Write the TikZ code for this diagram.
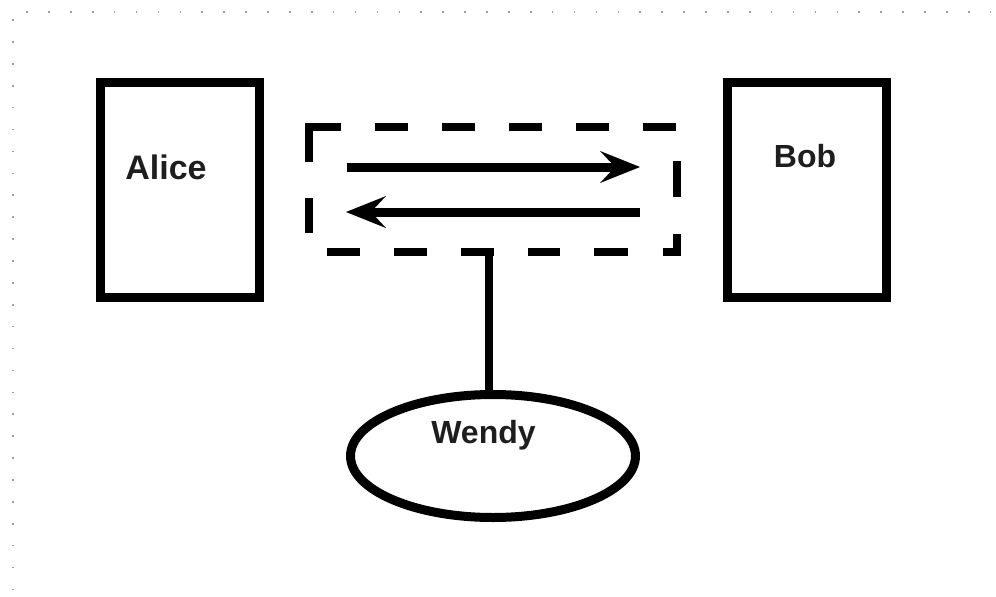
\documentclass[tikz,border=0pt]{standalone}
\usepackage{fontspec}
\setmainfont{Liberation Sans}
\usetikzlibrary{arrows.meta,shapes.geometric}
\definecolor{txt}{HTML}{1E1E1E}
\tikzset{
  box/.style={draw=black, line width=9pt, rectangle, minimum width=159pt, minimum height=215pt, inner sep=0pt},
  lbl/.style={font=\bfseries\fontsize{32pt}{32pt}\selectfont, text=txt, inner sep=0pt, anchor=base},
  biglbl/.style={lbl, font=\bfseries\fontsize{34pt}{34pt}\selectfont},
  dashbox/.style={draw=black, line width=8pt, dash pattern=on 0pt off 19pt on 35pt off 36pt on 68pt off 34pt on 33pt off 34pt on 33pt off 34pt on 33pt off 34pt on 33pt off 34pt on 33pt off 35pt on 36pt off 37pt on 32pt off 35pt on 34pt off 34pt on 32pt off 34pt on 33pt off 34pt on 33pt off 34pt on 33pt off 17pt},
  oval/.style={draw=black, line width=9pt, ellipse, minimum width=285pt, minimum height=123pt, inner sep=0pt},
  flow/.style={line width=9pt, -{Stealth[length=40pt, width=32pt, inset=15pt, line width=0pt]}},
  link/.style={line width=8.5pt},
  griddot/.style={fill=gray!75, draw=none}
}
\begin{document}
\begin{tikzpicture}[x=1pt, y=-1pt]
  \useasboundingbox (0,0) rectangle (996,597);
  \fill[white] (0,0) rectangle (996,597);
  % dotted page border
  \foreach \k in {0,...,44} {
    \fill[griddot] ({27+21.9*\k-0.8}, 11.2) rectangle ++(1.6,1.6);
  }
  \foreach \k in {0,...,26} {
    \fill[griddot] (12.2, {20+21.9*\k-0.8}) rectangle ++(1.6,1.6);
  }
  % boxes
  \node[box] (alice) at (179.5,189.5) {};
  \node[box] (bob) at (806.5,189.5) {};
  \node[biglbl] (aliceT) at (166,179) {Alice};
  \node[lbl] (bobT) at (805,167) {Bob};
  % dashed channel
  \node[rectangle, minimum width=368pt, minimum height=125pt, inner sep=0pt] (chan) at (493,189.5) {};
  \draw[dashbox] (chan.south west) -- (chan.north west) -- (chan.north east) -- (chan.south east) -- cycle;
  \coordinate (a1s) at (347,167);
  \coordinate (a1e) at (640,167);
  \coordinate (a2s) at (640,212);
  \coordinate (a2e) at (346,212);
  \draw[flow] (a1s) -- (a1e);
  \draw[flow] (a2s) -- (a2e);
  % Wendy
  \node[oval] (wendy) at (493,456) {};
  \node[lbl] (wendyT) at (483.5,443) {Wendy};
  \draw[link] ([xshift=-4pt]chan.south) -- ([xshift=-4pt]wendy.north);
\end{tikzpicture}
\end{document}
